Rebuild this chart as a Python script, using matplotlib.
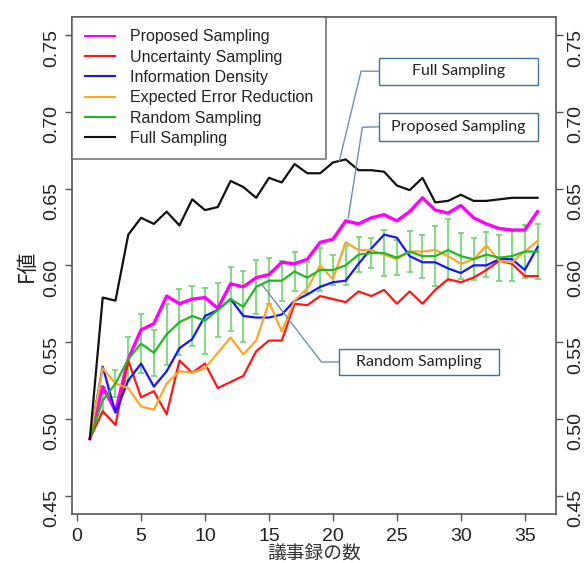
import numpy as np
import matplotlib.pyplot as plt
from matplotlib.patches import Rectangle

plt.rcParams['font.family'] = ['Liberation Sans', 'Noto Sans CJK JP', 'DejaVu Sans']

n_docs = np.arange(1, 37)

full = [0.487, 0.579, 0.577, 0.620, 0.631, 0.627, 0.635, 0.626, 0.643, 0.636, 0.638, 0.655,
        0.651, 0.644, 0.657, 0.654, 0.666, 0.660, 0.660, 0.667, 0.669, 0.662, 0.662, 0.661,
        0.652, 0.649, 0.657, 0.641, 0.642, 0.646, 0.642, 0.642, 0.643, 0.644, 0.644, 0.644]
proposed = [0.487, 0.521, 0.505, 0.539, 0.558, 0.562, 0.580, 0.575, 0.578, 0.579, 0.572, 0.588,
            0.586, 0.592, 0.594, 0.602, 0.601, 0.604, 0.615, 0.617, 0.629, 0.627, 0.631, 0.633,
            0.629, 0.635, 0.644, 0.636, 0.634, 0.639, 0.631, 0.627, 0.624, 0.623, 0.623, 0.635]
uncertainty = [0.487, 0.505, 0.496, 0.538, 0.514, 0.518, 0.503, 0.538, 0.530, 0.536, 0.520, 0.524,
               0.528, 0.544, 0.551, 0.551, 0.575, 0.574, 0.580, 0.578, 0.576, 0.583, 0.580, 0.584,
               0.575, 0.583, 0.575, 0.584, 0.591, 0.589, 0.592, 0.597, 0.603, 0.601, 0.593, 0.593]
density = [0.487, 0.534, 0.504, 0.525, 0.536, 0.521, 0.531, 0.546, 0.552, 0.567, 0.571, 0.578,
           0.567, 0.566, 0.566, 0.568, 0.577, 0.581, 0.586, 0.589, 0.590, 0.601, 0.611, 0.620,
           0.618, 0.606, 0.602, 0.602, 0.598, 0.595, 0.600, 0.600, 0.604, 0.604, 0.597, 0.612]
eer = [0.487, 0.533, 0.523, 0.520, 0.508, 0.506, 0.523, 0.531, 0.530, 0.533, 0.543, 0.553,
       0.542, 0.551, 0.576, 0.557, 0.577, 0.585, 0.600, 0.591, 0.615, 0.610, 0.610, 0.607,
       0.604, 0.609, 0.609, 0.610, 0.606, 0.601, 0.604, 0.613, 0.603, 0.602, 0.609, 0.616]
random_s = [0.487, 0.512, 0.523, 0.539, 0.549, 0.543, 0.555, 0.563, 0.567, 0.564, 0.571, 0.578,
            0.573, 0.586, 0.590, 0.590, 0.596, 0.592, 0.597, 0.597, 0.600, 0.607, 0.608, 0.608,
            0.605, 0.609, 0.606, 0.606, 0.610, 0.606, 0.604, 0.607, 0.605, 0.606, 0.609, 0.609]
random_sd = [0.0, 0.009, 0.009, 0.0145, 0.019, 0.015, 0.020, 0.0215, 0.0195, 0.0215, 0.0175, 0.021,
             0.023, 0.0175, 0.015, 0.013, 0.0125, 0.010, 0.014, 0.010, 0.0125, 0.0115, 0.010, 0.015,
             0.0115, 0.0135, 0.014, 0.0195, 0.020, 0.015, 0.0135, 0.0145, 0.015, 0.0165, 0.017, 0.018]

labels = ['Proposed Sampling', 'Uncertainty Sampling', 'Information Density',
          'Expected Error Reduction', 'Random Sampling', 'Full Sampling']
colors = ['#ff00ff', '#ff1515', '#1515ff', '#ffa528', '#22b822', '#111111']

fig = plt.figure(figsize=(5.84, 5.63), dpi=100)
ax = fig.add_axes([72/584, 49/563, (555.5-72)/584, (514-16.7)/563])

# error bars of random sampling
ax.errorbar(n_docs[1:], random_s[1:], yerr=random_sd[1:], fmt='none', ecolor='#6fd36f',
            elinewidth=1.2, capsize=2.5, capthick=1.2, zorder=1)

series = [proposed, uncertainty, density, eer, random_s, full]
widths = [2.4, 1.6, 1.6, 1.6, 1.6, 1.6]
for vals, lab, col, lw in zip(series, labels, colors, widths):
    ax.plot(n_docs, vals, color=col, lw=lw, label=lab, zorder=2)

ax.set_xlim(-0.4, 37.4)
ax.set_ylim(0.438, 0.762)
ax.set_xticks(np.arange(0, 36, 5))
ax.set_yticks([0.45, 0.50, 0.55, 0.60, 0.65, 0.70, 0.75])
ax.set_yticklabels(['0.45', '0.50', '0.55', '0.60', '0.65', '0.70', '0.75'])
ax.tick_params(axis='both', length=5, width=1, color='#555555', labelsize=14,
               labelcolor='#222222')
ax.tick_params(axis='x', pad=5)
ax.tick_params(axis='y', right=True, labelright=True, labelrotation=90, pad=3.5)
for s in ax.spines.values():
    s.set_color('#555555')
    s.set_linewidth(1.2)

ax.set_xlabel('議事録の数', fontsize=13.5, family=['Noto Sans CJK JP'], color='#333333',
              labelpad=-1)
ax.set_ylabel('F値', fontsize=15, family=['Noto Sans CJK JP'], color='#222222', labelpad=4)

leg = ax.legend(loc='upper left', bbox_to_anchor=(0, 1), borderaxespad=0, fontsize=11.5,
                frameon=True, fancybox=False, edgecolor='#555555', handlelength=1.9,
                handletextpad=0.9, labelspacing=0.33, borderpad=0.8)
leg.get_frame().set_linewidth(1.2)
for line in leg.get_lines():
    line.set_linewidth(1.5)
for t in leg.get_texts():
    t.set_color('#222222')

# callout boxes
box_col = '#41719c'
callouts = [
    ('Full Sampling', (23.6, 0.7178), (36.0, 0.7352), [(22.2, 0.7265), (20.5, 0.668)]),
    ('Proposed Sampling', (23.6, 0.6811), (36.0, 0.6993), [(22.3, 0.690), (21.2, 0.631)]),
    ('Random Sampling', (20.5, 0.5286), (33.0, 0.5456), [(19.1, 0.537), (14.5, 0.587)]),
]
for txt, (x0, y0), (x1, y1), pts in callouts:
    ax.add_patch(Rectangle((x0, y0), x1 - x0, y1 - y0, fill=True, facecolor='white',
                           edgecolor=box_col, lw=1.0, zorder=4))
    ax.text((x0 + x1) / 2, (y0 + y1) / 2, txt, ha='center', va='center', fontsize=11.5,
            family=['Lato'], color='#222222', zorder=5)
    xs = [x0] + [p[0] for p in pts]
    ys = [(y0 + y1) / 2] + [p[1] for p in pts]
    ax.plot(xs, ys, color='#6f8fae', lw=1.0, zorder=3)

fig.savefig('out.png', dpi=100)
